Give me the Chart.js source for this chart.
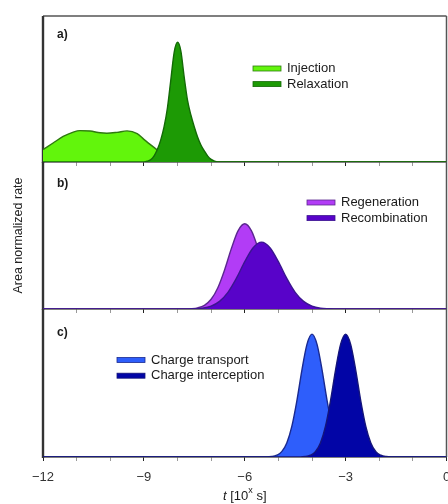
<!DOCTYPE html>
<html>
<head>
<meta charset="utf-8">
<script src="https://cdn.jsdelivr.net/npm/chart.js@4.4.1/dist/chart.umd.min.js"></script>
<style>
  html, body { margin: 0; padding: 0; background: #fff; }
  #wrap { position: relative; width: 448px; height: 504px; }
  #wrap canvas { position: absolute; left: 0; top: 0; }
</style>
</head>
<body>
<div id="wrap">
  <canvas id="panel-a" width="448" height="504"></canvas>
  <canvas id="panel-b" width="448" height="504"></canvas>
  <canvas id="panel-c" width="448" height="504"></canvas>
</div>
<script>
// time axis, log10 of seconds
const xMin = -12;
const xMax = 0;

// a) injection / relaxation
const injectionX = [-12, -11.7, -11.4, -11.1, -10.9, -10.6, -10.3, -10.1, -9.8, -9.5, -9.2, -9.0, -8.7, -8.5, -8.3, -8.1, -7.9, 0];
const injectionY = [0.085, 0.13, 0.175, 0.205, 0.215, 0.212, 0.200, 0.197, 0.203, 0.213, 0.195, 0.155, 0.10, 0.065, 0.03, 0.01, 0, 0];

const relaxationX = [-12, -9.0, -8.9, -8.8, -8.7, -8.6, -8.5, -8.4, -8.3, -8.2, -8.1, -8.0, -7.9, -7.8, -7.7, -7.6, -7.5, -7.4, -7.3, -7.2, -7.1, -7.0, -6.9, -6.8, 0];
const relaxationY = [0, 0, 0.005, 0.015, 0.04, 0.085, 0.15, 0.24, 0.37, 0.56, 0.75, 0.82, 0.76, 0.58, 0.42, 0.32, 0.24, 0.17, 0.115, 0.075, 0.04, 0.018, 0.006, 0, 0];

// b) regeneration / recombination
const regenerationX = [-12, -7.8, -7.6, -7.4, -7.2, -7.0, -6.8, -6.6, -6.4, -6.2, -6.0, -5.8, -5.6, -5.4, -5.2, -5.0, -4.8, -4.6, -4.4, -4.2, 0];
const regenerationY = [0, 0, 0.002, 0.008, 0.025, 0.066, 0.145, 0.266, 0.41, 0.532, 0.58, 0.532, 0.41, 0.266, 0.145, 0.066, 0.025, 0.008, 0.002, 0, 0];

const recombinationX = [-12, -7.75, -7.5, -7.25, -7.0, -6.75, -6.5, -6.25, -6.0, -5.75, -5.5, -5.25, -5.0, -4.75, -4.5, -4.25, -4.0, -3.75, -3.5, -3.25, 0];
const recombinationY = [0, 0, 0.002, 0.006, 0.020, 0.052, 0.113, 0.208, 0.322, 0.417, 0.455, 0.417, 0.322, 0.208, 0.113, 0.052, 0.020, 0.006, 0.002, 0, 0];

// c) charge transport / charge interception
const transportX = [-12, -5.35, -5.2, -5.05, -4.9, -4.75, -4.6, -4.45, -4.3, -4.15, -4.0, -3.85, -3.7, -3.55, -3.4, -3.25, -3.1, -2.95, -2.8, -2.65, 0];
const transportY = [0, 0, 0.003, 0.012, 0.036, 0.095, 0.207, 0.380, 0.587, 0.761, 0.83, 0.761, 0.587, 0.380, 0.207, 0.095, 0.036, 0.012, 0.003, 0, 0];

const interceptionX = [-12, -4.35, -4.2, -4.05, -3.9, -3.75, -3.6, -3.45, -3.3, -3.15, -3.0, -2.85, -2.7, -2.55, -2.4, -2.25, -2.1, -1.95, -1.8, -1.65, 0];
const interceptionY = [0, 0, 0.003, 0.012, 0.036, 0.095, 0.207, 0.380, 0.587, 0.761, 0.83, 0.761, 0.587, 0.380, 0.207, 0.095, 0.036, 0.012, 0.003, 0, 0];

const FONT = '"Liberation Sans", Arial, sans-serif';
Chart.defaults.font.family = FONT;

function toPoints(xs, ys) {
    return xs.map((x, i) => ({ x: x, y: ys[i] }));
}

function area(label, xs, ys, fillColor, lineColor, order) {
    return {
        label: label,
        data: toPoints(xs, ys),
        backgroundColor: fillColor,
        borderColor: lineColor,
        borderWidth: 1.4,
        fill: 'origin',
        pointRadius: 0,
        cubicInterpolationMode: 'monotone',
        order: order
    };
}

function minusLabel(v) {
    if (v % 3 !== 0) return '';
    return v < 0 ? '\u2212' + (-v) : String(v);
}

// frame, panel letter, legend and the x title
const panelDecor = {
    id: 'panelDecor',
    beforeDatasetsDraw(chart, args, opts) {
        const { left, top, right, bottom } = chart.chartArea;
        const ctx = chart.ctx;
        ctx.save();
        ctx.strokeStyle = '#555';
        ctx.lineWidth = 1.5;
        ctx.beginPath();
        if (opts.topLine) {
            ctx.moveTo(left, top);
            ctx.lineTo(right, top);
        }
        ctx.moveTo(right, top);
        ctx.lineTo(right, bottom);
        ctx.moveTo(left, bottom);
        ctx.lineTo(right, bottom);
        ctx.stroke();
        ctx.strokeStyle = '#333';
        ctx.lineWidth = 2.4;
        ctx.beginPath();
        ctx.moveTo(left, top);
        ctx.lineTo(left, bottom + 1);
        ctx.stroke();
        ctx.restore();
    },
    afterDraw(chart, args, opts) {
        const ctx = chart.ctx;
        ctx.save();
        ctx.textBaseline = 'middle';
        ctx.textAlign = 'left';

        ctx.fillStyle = '#1a1a1a';
        ctx.font = 'bold 12px ' + FONT;
        ctx.fillText(opts.letter.text, opts.letter.x, opts.letter.y);

        ctx.font = '13px ' + FONT;
        chart.data.datasets.forEach((ds, i) => {
            const y = opts.legend.y + i * opts.legend.gap;
            ctx.fillStyle = ds.backgroundColor;
            ctx.fillRect(opts.legend.x, y - 2.5, 28, 5);
            ctx.strokeStyle = ds.borderColor;
            ctx.lineWidth = 0.8;
            ctx.strokeRect(opts.legend.x, y - 2.5, 28, 5);
            ctx.fillStyle = '#1a1a1a';
            ctx.fillText(ds.label, opts.legend.x + 34, y);
        });

        if (opts.xTitle) {
            const parts = [
                { t: 't', f: 'italic 13px ' + FONT, dy: 0 },
                { t: ' [10', f: '13px ' + FONT, dy: 0 },
                { t: 'x', f: '9px ' + FONT, dy: -5 },
                { t: ' s]', f: '13px ' + FONT, dy: 0 }
            ];
            let total = 0;
            parts.forEach(p => { ctx.font = p.f; p.w = ctx.measureText(p.t).width; total += p.w; });
            const area = chart.chartArea;
            let x = (area.left + area.right) / 2 - total / 2;
            ctx.fillStyle = '#1a1a1a';
            parts.forEach(p => {
                ctx.font = p.f;
                ctx.fillText(p.t, x, opts.xTitle.y + p.dy);
                x += p.w;
            });
        }
        ctx.restore();
    }
};

function makePanel(id, datasets, panel) {
    return new Chart(document.getElementById(id).getContext('2d'), {
        type: 'line',
        data: { datasets: datasets },
        options: {
            responsive: false,
            animation: false,
            layout: { padding: { top: panel.top, bottom: panel.bottom, left: 0, right: 1.5 } },
            scales: {
                x: {
                    type: 'linear',
                    min: xMin,
                    max: xMax,
                    afterFit(s) { s.height = panel.axisHeight; s.paddingLeft = 0; s.paddingRight = 0; },
                    border: { display: false },
                    grid: {
                        drawOnChartArea: false,
                        tickLength: 4,
                        tickWidth: 1,
                        tickColor: c => (c.tick && c.tick.value % 3 === 0) ? '#222' : '#999'
                    },
                    ticks: {
                        display: panel.showTicks,
                        stepSize: 1,
                        autoSkip: false,
                        maxRotation: 0,
                        padding: 9,
                        color: '#333',
                        font: { size: 13 },
                        callback: minusLabel
                    }
                },
                y: {
                    min: 0,
                    max: 1,
                    afterFit(s) { s.width = 43; },
                    grid: { display: false },
                    border: { display: false },
                    ticks: { display: false },
                    title: {
                        display: !!panel.yTitle,
                        text: panel.yTitle || '',
                        color: '#222',
                        font: { size: 12.5 },
                        padding: { top: 11, bottom: 0 }
                    }
                }
            },
            plugins: {
                legend: { display: false },
                tooltip: { enabled: false },
                panelDecor: panel.decor
            }
        },
        plugins: [panelDecor]
    });
}

makePanel('panel-a', [
    area('Injection', injectionX, injectionY, '#62f50c', '#2f7a10', 1),
    area('Relaxation', relaxationX, relaxationY, '#1d9a05', '#136a06', 0)
], {
    top: 16, bottom: 334, axisHeight: 8, showTicks: false,
    decor: { topLine: true, letter: { text: 'a)', x: 57, y: 34.5 }, legend: { x: 253, y: 68.5, gap: 15.6 } }
});

makePanel('panel-b', [
    area('Regeneration', regenerationX, regenerationY, '#b23cf6', '#5c2890', 1),
    area('Recombination', recombinationX, recombinationY, '#5803c9', '#3b1590', 0)
], {
    top: 162, bottom: 187, axisHeight: 8, showTicks: false, yTitle: 'Area normalized rate',
    decor: { topLine: false, letter: { text: 'b)', x: 57, y: 184 }, legend: { x: 307, y: 202.5, gap: 15.6 } }
});

makePanel('panel-c', [
    area('Charge transport', transportX, transportY, '#2e5efb', '#1a2a90', 1),
    area('Charge interception', interceptionX, interceptionY, '#0205a6', '#15157a', 0)
], {
    top: 309, bottom: 0, axisHeight: 47, showTicks: true,
    decor: { topLine: false, letter: { text: 'c)', x: 57, y: 333 }, legend: { x: 117, y: 360, gap: 15.7 }, xTitle: { y: 496 } }
});
</script>
</body>
</html>
